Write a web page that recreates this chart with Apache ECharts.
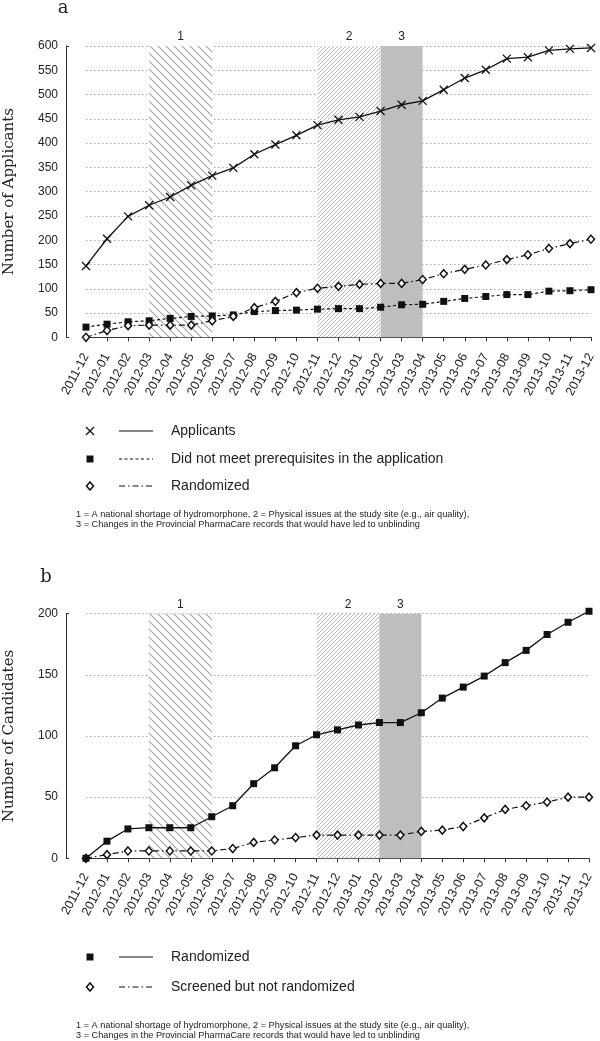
<!DOCTYPE html>
<html>
<head>
<meta charset="utf-8">
<script src="https://cdn.jsdelivr.net/npm/echarts@6/dist/echarts.min.js"></script>
<style>
html,body{margin:0;padding:0;background:#fff;}
#chart{width:600px;height:1041px;}
</style>
</head>
<body>
<div id="chart"></div>
<script>
// ---------- data ----------
const months = ['2011-12','2012-01','2012-02','2012-03','2012-04','2012-05','2012-06','2012-07','2012-08','2012-09','2012-10','2012-11','2012-12','2013-01','2013-02','2013-03','2013-04','2013-05','2013-06','2013-07','2013-08','2013-09','2013-10','2013-11','2013-12'];
const applicants = [147,203,249,272,289,313,333,349,377,397,416,437,448,454,466,479,487,510,534,551,574,577,591,594,596];
const notMetPrereq = [21,27,32,34,39,43,44,46,53,55,56,58,59,59,62,67,68,74,80,84,88,88,95,96,98];
const randomized = [0,14,24,25,25,25,34,43,61,74,92,101,105,109,111,111,119,131,140,149,160,170,183,193,202];
const screenedNotRandomized = [0,3,6,6,6,6,6,8,13,15,17,19,19,19,19,19,22,23,26,33,40,43,46,50,50];
const regionStart = ['2012-03','2012-11','2013-02'];
const regionEnd = ['2012-06','2013-02','2013-04'];
const regionLabel = ['1','2','3'];
const legendA = ['Applicants','Did not meet prerequisites in the application','Randomized'];
const legendB = ['Randomized','Screened but not randomized'];
const footnote1 = '1 = A national shortage of hydromorphone, 2 = Physical issues at the study site (e.g., air quality),';
const footnote2 = '3 = Changes in the Provincial PharmaCare records that would have led to unblinding';

// ---------- patterns ----------
function hatch(size, dir, color, lw) {
  const c = document.createElement('canvas');
  c.width = size; c.height = size;
  const g = c.getContext('2d');
  g.fillStyle = '#fff'; g.fillRect(0,0,size,size);
  g.strokeStyle = color; g.lineWidth = lw;
  g.beginPath();
  if (dir === 'back') {
    g.moveTo(-1,-1); g.lineTo(size+1,size+1);
    g.moveTo(-1,size-1); g.lineTo(1,size+1);
    g.moveTo(size-1,-1); g.lineTo(size+1,1);
  } else {
    g.moveTo(-1,size+1); g.lineTo(size+1,-1);
    g.moveTo(-1,1); g.lineTo(1,-1);
    g.moveTo(size-1,size+1); g.lineTo(size+1,size-1);
  }
  g.stroke();
  return c;
}
const pat1 = hatch(8,'back','#a8a8a8',1.2);
const pat2 = hatch(4,'fwd','#b8b8b8',1);
const regionStyles = [
  {color:{image:pat1, repeat:'repeat'}},
  {color:{image:pat2, repeat:'repeat'}},
  {color:'#bebebe'}
];

function markAreaData() {
  return regionStart.map((s,i)=>[
    {xAxis:s, itemStyle:regionStyles[i], label:{formatter:regionLabel[i]}},
    {xAxis:regionEnd[i]}
  ]);
}

const xSym = 'path://M0,0L10,10M10,0L0,10';
const axisText = {color:'#222', fontFamily:'Liberation Sans, Arial, sans-serif'};

function xAxisCfg(gi, off) {
  return {
    type:'category', gridIndex:gi, data:months, boundaryGap:false, offset:off,
    axisLine:{lineStyle:{color:'#333', width:1}},
    axisTick:{show:true, length:4, alignWithLabel:true, lineStyle:{color:'#333'}},
    axisLabel:Object.assign({interval:0, rotate:62, fontSize:12.5, margin:6}, axisText),
    splitLine:{show:false}
  };
}
function yAxisCfg(gi, max, name) {
  return {
    type:'value', gridIndex:gi, min:0, max:max, interval:50, offset:20,
    name:name, nameLocation:'middle', nameGap:49, nameMoveOverlap:false,
    nameTextStyle:{fontFamily:'DejaVu Serif, serif', fontSize:15, color:'#222'},
    axisLine:{show:true, lineStyle:{color:'#333', width:1}},
    axisTick:{show:false},
    axisLabel:Object.assign({fontSize:12, margin:8}, axisText),
    splitLine:{show:true, lineStyle:{color:'#aaa', type:[1.5,2.5], width:1}}
  };
}
function yCapAxis(gi, max) {
  return {
    type:'value', gridIndex:gi, min:0, max:max, interval:50, offset:20, position:'left',
    axisLine:{show:false},
    axisTick:{show:true, inside:true, length:3, customValues:[0,max], lineStyle:{color:'#333'}},
    axisLabel:{show:false},
    splitLine:{show:false}
  };
}

const markAreaCfg = {
  silent:true,
  label:{show:true, position:'top', distance:3, fontSize:12, color:'#222', fontFamily:'Liberation Sans, Arial, sans-serif'},
  data:markAreaData()
};

// ---------- legend graphics ----------
function sym(kind, cx, cy) {
  if (kind==='x') return [
    {type:'line', shape:{x1:cx-4,y1:cy-4,x2:cx+4,y2:cy+4}, style:{stroke:'#111', lineWidth:1.3}},
    {type:'line', shape:{x1:cx-4,y1:cy+4,x2:cx+4,y2:cy-4}, style:{stroke:'#111', lineWidth:1.3}}
  ];
  if (kind==='sq') return [{type:'rect', shape:{x:cx-3.5,y:cy-3.5,width:7,height:7}, style:{fill:'#111'}}];
  return [{type:'polygon', shape:{points:[[cx,cy-4],[cx+3.5,cy],[cx,cy+4],[cx-3.5,cy]]}, style:{fill:'#fff', stroke:'#111', lineWidth:1.5}}];
}
function legLine(dash, y) {
  return {type:'line', shape:{x1:119,y1:y,x2:153,y2:y}, style:{stroke:'#111', lineWidth:1.1, lineDash:dash}};
}
function legText(t, y) {
  return {type:'text', x:171, y:y, style:{text:t, fill:'#222', fontSize:14, fontFamily:'Liberation Sans, Arial, sans-serif', verticalAlign:'middle'}};
}
function foot(t, y) {
  return {type:'text', x:76, y:y, style:{text:t, fill:'#222', fontSize:9.2, fontFamily:'Liberation Sans, Arial, sans-serif', verticalAlign:'middle'}};
}
const dashDot = [6,3,1.5,3];
const dashed = [3,2.5];
const graphics = [].concat(
  [{type:'text', x:63, y:8, style:{text:'a', fill:'#222', fontSize:18, fontFamily:'DejaVu Serif, serif', align:'center', verticalAlign:'middle'}}],
  [{type:'text', x:46, y:577, style:{text:'b', fill:'#222', fontSize:18, fontFamily:'DejaVu Serif, serif', align:'center', verticalAlign:'middle'}}],
  sym('x',90,431), [legLine(null,431), legText(legendA[0],431)],
  sym('sq',90,459), [legLine(dashed,459), legText(legendA[1],459)],
  sym('d',90,486), [legLine(dashDot,486), legText(legendA[2],486)],
  [foot(footnote1,514), foot(footnote2,524)],
  sym('sq',90,957), [legLine(null,957), legText(legendB[0],957)],
  sym('d',90,987), [legLine(dashDot,987), legText(legendB[1],987)],
  [foot(footnote1,1025), foot(footnote2,1035)]
);

const chart = echarts.init(document.getElementById('chart'), null, {renderer:'canvas'});
chart.setOption({
  backgroundColor:'#fff',
  animation:false,
  grid:[
    {left:86, right:9, top:46, bottom:703.7, containLabel:false, outerBoundsMode:'none'},
    {left:86, right:11, top:613.7, bottom:182.7, containLabel:false, outerBoundsMode:'none'}
  ],
  xAxis:[xAxisCfg(0,11), xAxisCfg(1,10)],
  yAxis:[yAxisCfg(0,600,'Number of Applicants'), yAxisCfg(1,200,'Number of Candidates'), yCapAxis(0,600), yCapAxis(1,200)],
  series:[
    {type:'line', xAxisIndex:0, yAxisIndex:0, data:applicants, symbol:xSym, symbolSize:8, clip:false,
     itemStyle:{color:'none', borderColor:'#111', borderWidth:1.3},
     lineStyle:{color:'#111', width:1.3}, z:5, markArea:markAreaCfg},
    {type:'line', xAxisIndex:0, yAxisIndex:0, data:notMetPrereq, symbol:'rect', symbolSize:7, clip:false,
     itemStyle:{color:'#111'}, lineStyle:{color:'#111', width:1.2, type:dashed}, z:4},
    {type:'line', xAxisIndex:0, yAxisIndex:0, data:randomized, symbol:'diamond', symbolSize:[7,8], clip:false,
     itemStyle:{color:'#fff', borderColor:'#111', borderWidth:1.5}, lineStyle:{color:'#111', width:1.2, type:dashDot}, z:4},
    {type:'line', xAxisIndex:1, yAxisIndex:1, data:randomized, symbol:'rect', symbolSize:7, clip:false,
     itemStyle:{color:'#111'}, lineStyle:{color:'#111', width:1.3}, z:5, markArea:markAreaCfg},
    {type:'line', xAxisIndex:1, yAxisIndex:1, data:screenedNotRandomized, symbol:'diamond', symbolSize:[7,8], clip:false,
     itemStyle:{color:'#fff', borderColor:'#111', borderWidth:1.5}, lineStyle:{color:'#111', width:1.2, type:dashDot}, z:4}
  ],
  graphic:graphics
});
</script>
</body>
</html>
